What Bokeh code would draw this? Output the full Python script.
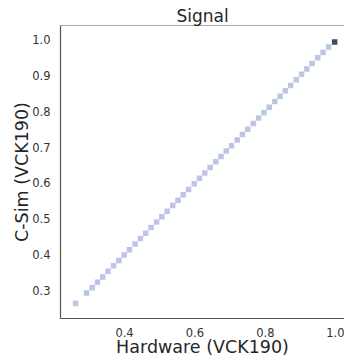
from bokeh.plotting import figure
from bokeh.models import Range1d, FixedTicker, Span, NumeralTickFormatter
from bokeh.embed import file_html
from bokeh.resources import INLINE

# data
hw_light = [0.261, 0.292, 0.308, 0.323, 0.338, 0.353, 0.369, 0.384, 0.399, 0.414,
            0.430, 0.445, 0.460, 0.475, 0.491, 0.506, 0.521, 0.537, 0.552, 0.567,
            0.582, 0.598, 0.613, 0.628, 0.643, 0.659, 0.674, 0.689, 0.704, 0.720,
            0.735, 0.750, 0.766, 0.781, 0.796, 0.811, 0.827, 0.842, 0.857, 0.872,
            0.888, 0.903, 0.918, 0.933, 0.949, 0.964, 0.980]
csim_light = [0.264, 0.293, 0.308, 0.323, 0.338, 0.354, 0.369, 0.384, 0.399, 0.414,
              0.430, 0.445, 0.460, 0.476, 0.491, 0.506, 0.521, 0.537, 0.552, 0.567,
              0.582, 0.598, 0.613, 0.628, 0.643, 0.659, 0.674, 0.689, 0.704, 0.720,
              0.735, 0.750, 0.766, 0.781, 0.796, 0.811, 0.827, 0.842, 0.857, 0.872,
              0.888, 0.903, 0.918, 0.933, 0.949, 0.964, 0.979]
hw_dark = [0.997]
csim_dark = [0.993]
x_ticks = [0.4, 0.6, 0.8, 1.0]
y_ticks = [0.3, 0.4, 0.5, 0.6, 0.7, 0.8, 0.9, 1.0]

FONT = "DejaVu Sans"
X0, X1 = 0.218, 1.025
Y0, Y1 = 0.222, 1.039

p = figure(width=344, height=359, output_backend="svg", toolbar_location=None,
           x_range=Range1d(X0, X1), y_range=Range1d(Y0, Y1),
           min_border_left=60, min_border_right=0, min_border_top=25, min_border_bottom=38,
           title="Signal")
p.title.align = "center"
p.title.text_font = FONT
p.title.text_font_size = "17px"
p.title.text_font_style = "normal"
p.title.text_color = "#262626"
p.title.standoff = 0
p.title.offset = 0
p.outline_line_color = None
p.xgrid.visible = False
p.ygrid.visible = False
p.background_fill_color = "white"
p.border_fill_color = "white"

for ax, ticks, lab in ((p.xaxis[0], x_ticks, "Hardware (VCK190)"), (p.yaxis[0], y_ticks, "C-Sim (VCK190)")):
    ax.ticker = FixedTicker(ticks=ticks)
    ax.formatter = NumeralTickFormatter(format="0.0")
    ax.axis_label = lab
    ax.axis_label_text_font = FONT
    ax.axis_label_text_font_size = "17.5px"
    ax.axis_label_text_font_style = "normal"
    ax.axis_label_text_color = "#262626"
    ax.axis_label_text_line_height = 1.0
    ax.major_label_text_font = FONT
    ax.major_label_text_font_size = "11.5px"
    ax.major_label_text_color = "#333333"
    ax.major_label_text_line_height = 1.0
    ax.major_tick_line_color = None
    ax.minor_tick_line_color = None
    ax.axis_line_color = "#555555"
    ax.axis_line_width = 1.2

p.xaxis[0].major_label_standoff = 3
p.xaxis[0].axis_label_standoff = -3
p.yaxis[0].major_label_standoff = 4
p.yaxis[0].axis_label_standoff = -3

p.add_layout(Span(location=Y1, dimension="width", line_color="#555555", line_width=1.2))

p.scatter(hw_light, csim_light, marker="square", size=5.5, color="#bac6e4", line_color=None)
p.scatter(hw_dark, csim_dark, marker="square", size=5.5, color="#3c4a6c", line_color=None)

open("out.html", "w").write(file_html(p, INLINE))
